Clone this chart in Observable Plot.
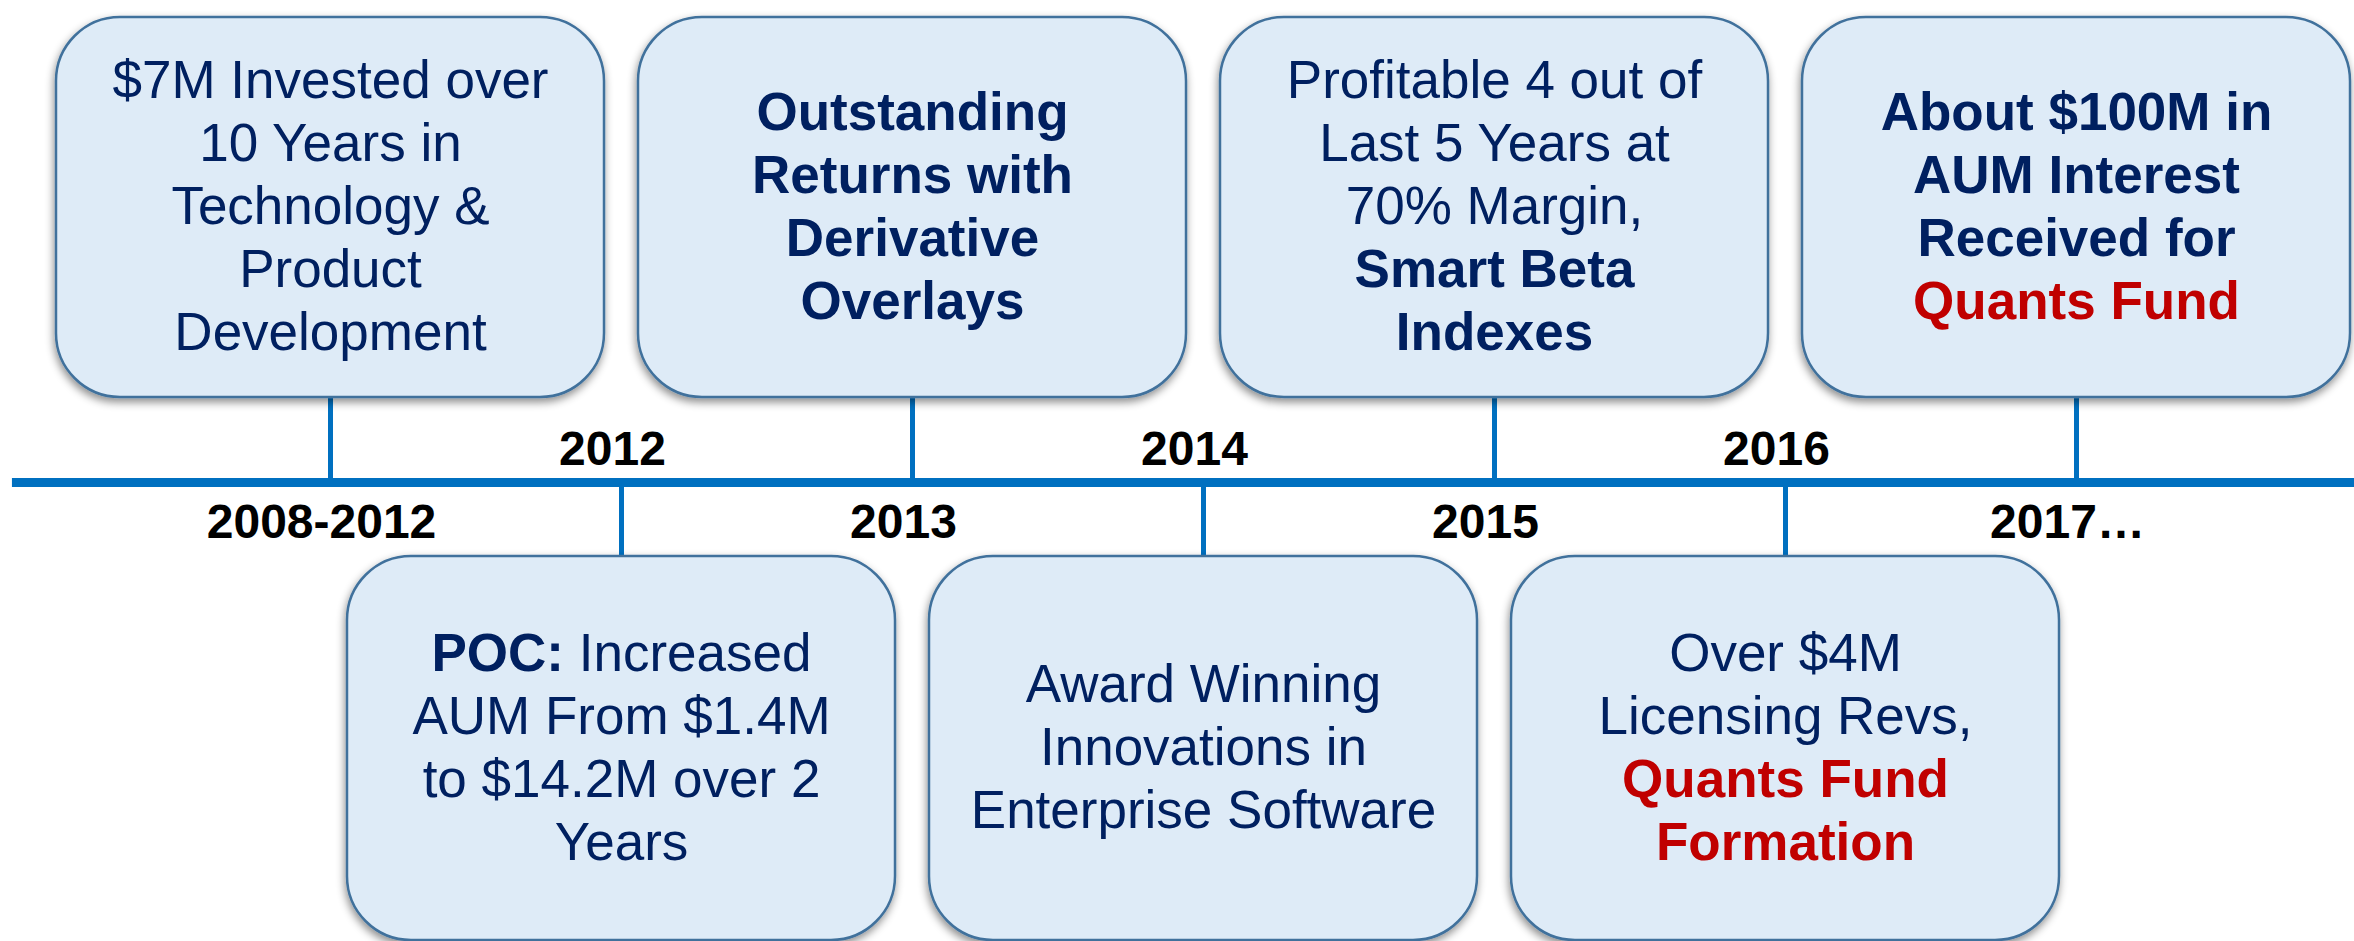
<!DOCTYPE html>
<html><head><meta charset="utf-8">
<script src="https://cdn.jsdelivr.net/npm/d3@7"></script>
<script src="https://cdn.jsdelivr.net/npm/@observablehq/plot@0.6"></script>
<style>html,body{margin:0;padding:0;background:#fff;} svg{display:block}</style>
</head><body>
<script>
// ---------------- data ----------------
const periods = ["2008-2012", "2012", "2013", "2014", "2015", "2016", "2017…"];
const sides   = ["top", "bottom", "top", "bottom", "top", "bottom", "top"];
// markup: *bold*  ^bold red^
const notes = [
  ["$7M Invested over", "10 Years in", "Technology &", "Product", "Development"],
  ["*POC:* Increased", "AUM From $1.4M", "to $14.2M over 2", "Years"],
  ["*Outstanding*", "*Returns with*", "*Derivative*", "*Overlays*"],
  ["Award Winning", "Innovations in", "Enterprise Software"],
  ["Profitable 4 out of", "Last 5 Years at", "70% Margin,", "*Smart Beta*", "*Indexes*"],
  ["Over $4M", "Licensing Revs,", "^Quants Fund^", "^Formation^"],
  ["*About $100M in*", "*AUM Interest*", "*Received for*", "^Quants Fund^"]
];

// ---------------- layout / style ----------------
const W = 2354, H = 941;
const FONT = "'Liberation Sans', Arial, Helvetica, sans-serif";
const NAVY = "#002060", RED = "#C00000", BLUE = "#0070C0";
const boxHalf = 0.9416;                 // half box width, in period units
const topBox = {y1: 85, y2: 465, c: 275};
const botBox = {y1: -458, y2: -74, c: -266};
const lineH = 63;

function parse(s) {
  return s.split(/(\*[^*]+\*|\^[^^]+\^)/).filter(t => t.length).map(t => {
    if (t[0] === "*") return {text: t.slice(1, -1), bold: true, red: false};
    if (t[0] === "^") return {text: t.slice(1, -1), bold: true, red: true};
    return {text: t, bold: false, red: false};
  });
}

const events = periods.map((p, i) => ({i, period: p, side: sides[i], lines: notes[i]}));
const rows = events.flatMap(e => {
  const b = e.side === "top" ? topBox : botBox;
  const n = e.lines.length;
  return e.lines.map((t, k) => {
    const segs = parse(t);
    return {i: e.i, y: b.c + ((n - 1) / 2 - k) * lineH, segs, plain: segs.map(s => s.text).join("")};
  });
});

const plot = Plot.plot({
  width: W, height: H,
  marginLeft: 330, marginRight: 278, marginTop: 0, marginBottom: 0,
  x: {domain: [0, 6], axis: null},
  y: {domain: [-459, 482], axis: null},
  style: {background: "white", fontFamily: FONT, overflow: "visible"},
  marks: [
    Plot.ruleX(events, {x: "i", y1: 0, y2: d => d.side === "top" ? topBox.y1 : botBox.y2, stroke: BLUE, strokeWidth: 5}),
    Plot.ruleY([0], {x1: () => -1.093, x2: () => 7, stroke: BLUE, strokeWidth: 9}),
    Plot.rect(events, {
      x1: d => d.i - boxHalf, x2: d => d.i + boxHalf,
      y1: d => d.side === "top" ? topBox.y1 : botBox.y1,
      y2: d => d.side === "top" ? topBox.y2 : botBox.y2,
      fill: "#DEEBF7", stroke: "#41719C", strokeWidth: 2.5, rx: 64,
      ariaDescription: "boxes"
    }),
    Plot.text(rows, {x: "i", y: "y", text: "plain", fontSize: 53, fill: NAVY, fontFamily: FONT, ariaDescription: "notes"}),
    Plot.text(events.filter(e => e.side === "bottom"), {
      x: "i", y: 18, text: "period", dx: -9, lineAnchor: "bottom",
      fontSize: 48, fontWeight: "bold", fill: "#000", fontFamily: FONT
    }),
    Plot.text(events.filter(e => e.side === "top"), {
      x: "i", y: -21, text: "period", dx: -9, lineAnchor: "top",
      fontSize: 48, fontWeight: "bold", fill: "#000", fontFamily: FONT
    })
  ]
});

const svg = d3.select(plot);
const defs = svg.insert("defs", ":first-child");
const f = defs.append("filter").attr("id", "boxshadow")
  .attr("x", "-10%").attr("y", "-10%").attr("width", "120%").attr("height", "130%");
f.append("feDropShadow").attr("dx", -1).attr("dy", 4).attr("stdDeviation", 4)
  .attr("flood-color", "#000").attr("flood-opacity", 0.45);
svg.select('g[aria-description="boxes"]').attr("filter", "url(#boxshadow)");

svg.selectAll('g[aria-description="notes"] text').each(function(_, j) {
  const r = rows[j];
  const t = d3.select(this);
  t.text(null);
  r.segs.forEach(s => {
    t.append("tspan")
      .attr("font-weight", s.bold ? "bold" : null)
      .attr("fill", s.red ? RED : null)
      .text(s.text);
  });
});

document.body.appendChild(plot);
</script>
</body></html>
